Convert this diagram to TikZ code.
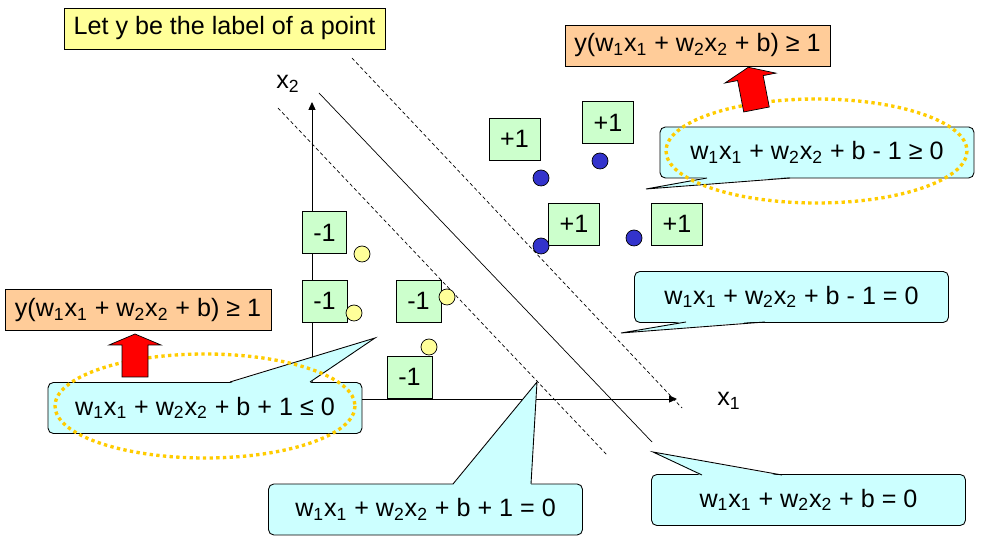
\documentclass[tikz,border=0pt]{standalone}
\usepackage{fontspec}
\setmainfont{Liberation Sans}
\usetikzlibrary{arrows.meta}
\definecolor{notefill}{HTML}{FFFF99}
\definecolor{condfill}{HTML}{FFCC99}
\definecolor{callfill}{HTML}{CCFFFF}
\definecolor{labfill}{HTML}{CCFFCC}
\definecolor{posdot}{HTML}{3333CC}
\definecolor{negdot}{HTML}{FFFF99}
\definecolor{ringcol}{HTML}{FFCC00}
\newcommand{\lo}[1]{\textsubscript{#1}}
\newcommand{\wsum}{w\lo{1}x\lo{1} + w\lo{2}x\lo{2} + b}

\begin{document}
\begin{tikzpicture}[x=0.02cm, y=-0.02cm, every node/.style={font=\fontsize{14.3}{17}\selectfont},
  box/.style={draw,line width=0.5pt,minimum height=0.82cm,inner sep=0pt},
  labbox/.style={draw,line width=0.5pt,fill=labfill,minimum height=0.84cm,inner sep=0pt},
  callbox/.style={draw,line width=0.5pt,fill=callfill,rounded corners=3pt,minimum width=6.28cm,minimum height=1.02cm},
  ptdot/.style={circle,draw,line width=0.4pt,minimum size=0.32cm,inner sep=0pt},
  ring/.style={ringcol,line width=1.9pt,dash pattern=on 1.9pt off 1.9pt},
  redarrow/.style={fill=red,draw=black,line width=0.4pt},
  marginline/.style={line width=0.4pt,dash pattern=on 2pt off 1.5pt}]
\useasboundingbox (0,0) rectangle (984,546);

% axes
\coordinate (org) at (312,399);
\coordinate (xend) at (677,399);
\coordinate (yend) at (312,102);
\draw[line width=0.5pt,-{Triangle[length=4.5pt,width=4pt]}] (org) -- (xend);
\draw[line width=0.5pt,-{Triangle[length=4.5pt,width=4pt]}] (org) -- (yend);
\node (xlab) at (729,401) {x\lo{1}};
\node (ylab) at (288,84) {x\lo{2}};

% separating line and margins
\coordinate (h0a) at (319,93);   \coordinate (h0b) at (652,442);
\coordinate (hpa) at (352,58);   \coordinate (hpb) at (682,408);
\coordinate (hna) at (278,108);  \coordinate (hnb) at (608,456);
\draw[line width=0.4pt] (h0a) -- (h0b);
\draw[marginline] (hpa) -- (hpb);
\draw[marginline] (hna) -- (hnb);

% class labels
\node[labbox,minimum width=1.02cm] (p1) at (514.5,139) {+1};
\node[labbox,minimum width=1.02cm] (p2) at (608,122.5) {+1};
\node[labbox,minimum width=1.02cm] (p3) at (574,224) {+1};
\node[labbox,minimum width=1.02cm] (p4) at (677,224) {+1};
\node[labbox,minimum width=0.88cm] (n1) at (324.5,232.5) {-1};
\node[labbox,minimum width=0.9cm] (n2) at (324.5,301) {-1};
\node[labbox,minimum width=0.9cm] (n3) at (418.5,301) {-1};
\node[labbox,minimum width=0.9cm] (n4) at (409.5,377) {-1};

% points
\node[ptdot,fill=posdot] (a1) at (541,178) {};
\node[ptdot,fill=posdot] (a2) at (600,161) {};
\node[ptdot,fill=posdot] (a3) at (541,246) {};
\node[ptdot,fill=posdot] (a4) at (634,238) {};
\node[ptdot,fill=negdot] (b1) at (362,254) {};
\node[ptdot,fill=negdot] (b2) at (354,313) {};
\node[ptdot,fill=negdot] (b3) at (447,297) {};
\node[ptdot,fill=negdot] (b4) at (429,347) {};

% callouts
\node[callbox] (lb) at (205,408) {\wsum{} + 1 ≤ 0};
\coordinate (lbtip) at (375,338);
\fill[callfill] (230,383) -- (lbtip) -- (310,383) -- cycle;
\draw[line width=0.5pt] (230,382) -- (lbtip) -- (310,382);

\node[callbox] (tr) at (817,152.5) {\wsum{} - 1 ≥ 0};
\coordinate (trtip) at (646,189);
\fill[callfill] (707,177) -- (trtip) -- (790,177) -- cycle;
\draw[line width=0.5pt] (707,178) -- (trtip) -- (790,178);

\node[callbox] (mr) at (791.5,297) {\wsum{} - 1 = 0};
\coordinate (mrtip) at (621,333);
\fill[callfill] (686,321) -- (mrtip) -- (765,321) -- cycle;
\draw[line width=0.5pt] (686,322) -- (mrtip) -- (765,322);

\node[callbox] (br) at (808.5,500) {\wsum{} = 0};
\coordinate (brtip) at (653,452);
\fill[callfill] (702,476) -- (brtip) -- (782,476) -- cycle;
\draw[line width=0.5pt] (702,475) -- (brtip) -- (782,475);

\node[callbox] (bm) at (425.5,509.5) {\wsum{} + 1 = 0};
\coordinate (bmtip) at (537,382);
\fill[callfill] (453,485) -- (bmtip) -- (531,485) -- cycle;
\draw[line width=0.5pt] (453,484) -- (bmtip) -- (531,484);

% dotted rings
\draw[ring] (205,406) ellipse [x radius=150, y radius=52];
\draw[ring] (816.5,151) ellipse [x radius=150.5, y radius=52];

% block arrows
\filldraw[redarrow,shift={(135,377)}] (-13,0) -- (-13,-32) -- (-26,-32) -- (0,-43) -- (26,-32) -- (13,-32) -- (13,0) -- cycle;
\filldraw[redarrow,shift={(756.5,109.5)},rotate=11] (-13,0) -- (-13,-32) -- (-26,-32) -- (0,-43) -- (26,-32) -- (13,-32) -- (13,0) -- cycle;

% notes
\node[box,fill=notefill,minimum width=6.42cm] (note) at (224.5,28.5) {Let y be the label of a point};
\node[box,fill=condfill,minimum width=5.3cm] (ctop) at (697.5,45.5) {y(\wsum) ≥ 1};
\node[box,fill=condfill,minimum width=5.32cm] (cleft) at (138,310) {y(\wsum) ≥ 1};
\end{tikzpicture}
\end{document}
